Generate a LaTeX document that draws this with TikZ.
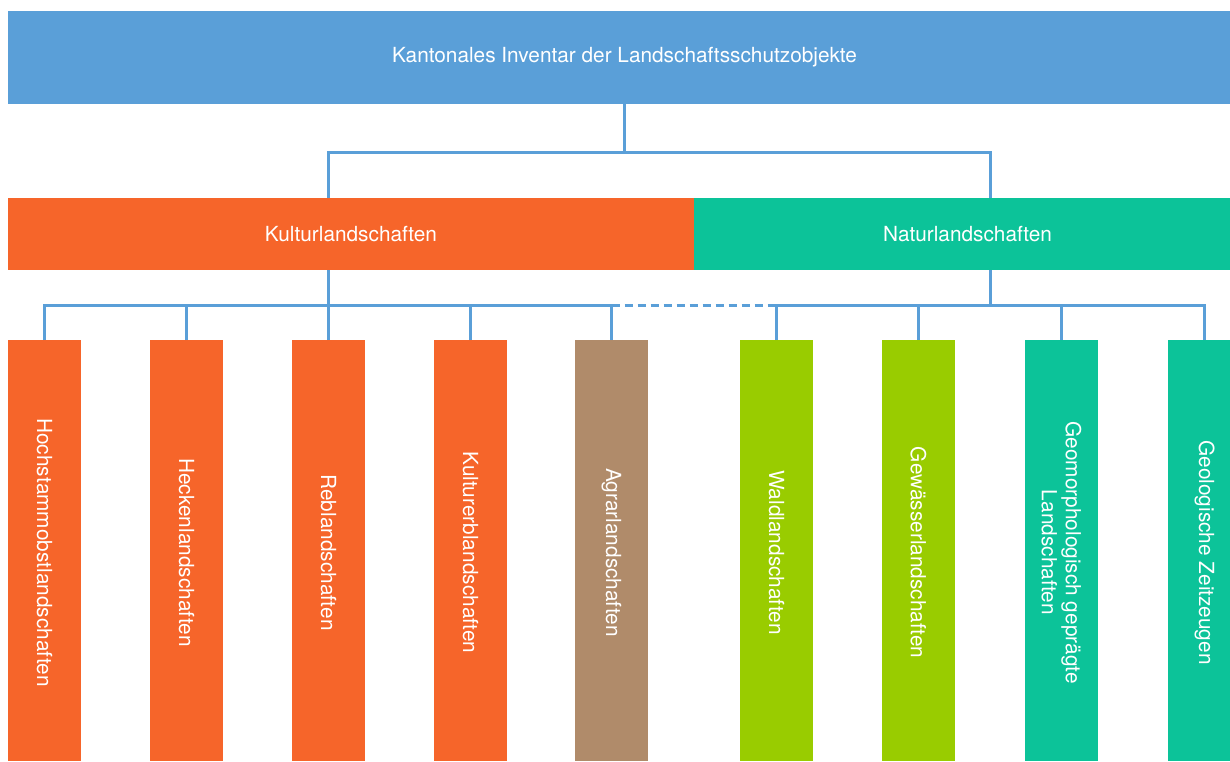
\documentclass[tikz,border=0pt]{standalone}
\usepackage{fontspec}
\setmainfont{TeX Gyre Heros}
\usetikzlibrary{calc}
\definecolor{topblue}{HTML}{5A9FD8}
\definecolor{lineblue}{HTML}{5A9FD8}
\definecolor{korange}{HTML}{F6652A}
\definecolor{nteal}{HTML}{0CC399}
\definecolor{abrown}{HTML}{B08B6A}
\definecolor{wgreen}{HTML}{99CC00}
\begin{document}
\begin{tikzpicture}[x=1pt,y=-1pt,
  box/.style={fill=#1, inner sep=0pt, outer sep=0pt, text=white, anchor=north west,
    font=\fontsize{20.8}{24}\selectfont},
  bar/.style={fill=#1, minimum width=73pt, minimum height=421pt, inner sep=0pt, outer sep=0pt, anchor=north west},
  vtext/.style={rotate=-90, text=white, align=center, inner sep=0pt,
    font=\fontsize{20.8}{24}\selectfont},
  conn/.style={draw=lineblue, line width=3pt},
]
\useasboundingbox (0,0) rectangle (1230,761);
\clip (0,0) rectangle (1230,761);

\node[box=topblue, minimum width=1233pt, minimum height=93pt] (top) at (8,11) {Kantonales Inventar der Landschaftsschutzobjekte};
\node[box=korange, minimum width=686pt, minimum height=72pt] (kultur) at (8,198) {Kulturlandschaften};
\node[box=nteal, minimum width=547pt, minimum height=72pt] (natur) at (694,198) {Naturlandschaften};

\node[bar=korange] (b1) at (8,340) {};
\node[bar=korange] (b2) at (150,340) {};
\node[bar=korange] (b3) at (292,340) {};
\node[bar=korange] (b4) at (434,340) {};
\node[bar=abrown] (b5) at (575,340) {};
\node[bar=wgreen] (b6) at (740,340) {};
\node[bar=wgreen] (b7) at (882,340) {};
\node[bar=nteal] (b8) at (1025,340) {};
\node[bar=nteal] (b9) at (1168,340) {};

\node[vtext] (t1) at ($(b1.center)+(0,2)$) {Hochstammobstlandschaften};
\node[vtext] (t2) at ($(b2.center)+(0,2)$) {Heckenlandschaften};
\node[vtext] (t3) at ($(b3.center)+(0,2)$) {Reblandschaften};
\node[vtext] (t4) at ($(b4.center)+(0,2)$) {Kulturerblandschaften};
\node[vtext] (t5) at ($(b5.center)+(0,2)$) {Agrarlandschaften};
\node[vtext] (t6) at ($(b6.center)+(0,2)$) {Waldlandschaften};
\node[vtext] (t7) at ($(b7.center)+(0,2)$) {Gewässerlandschaften};
\node[vtext] (t8) at ($(b8.center)+(0,2)$) {Geomorphologisch geprägte\\Landschaften};
\node[vtext] (t9) at ($(b9.center)+(0,2)$) {Geologische Zeitzeugen};

\coordinate (tbus) at (0,152);
\coordinate (bus) at (0,305.5);
\coordinate (nx) at ($(b7.north)!0.5!(b8.north)$);

% top level
\draw[conn] (top.south) -- (top.south |- tbus);
\draw[conn] (b3.north |- kultur.north) -- (b3.north |- tbus) -- (nx |- tbus) -- (nx |- natur.north);

% second level
\draw[conn] (kultur.south -| b3.north) -- (b3.north |- bus);
\draw[conn] (natur.south -| nx) -- (nx |- bus);

% bus
\draw[conn] (b1.north) |- (b5.north |- bus) -- (b5.north);
\draw[conn, dash pattern=on 8pt off 5pt] (b5.north |- bus) -- (b6.north |- bus);
\draw[conn] (b6.north) |- (b9.north |- bus) -- (b9.north);
\foreach \b in {b2,b3,b4,b7,b8}{
  \draw[conn] (\b.north) -- (\b.north |- bus);
}
\end{tikzpicture}
\end{document}
